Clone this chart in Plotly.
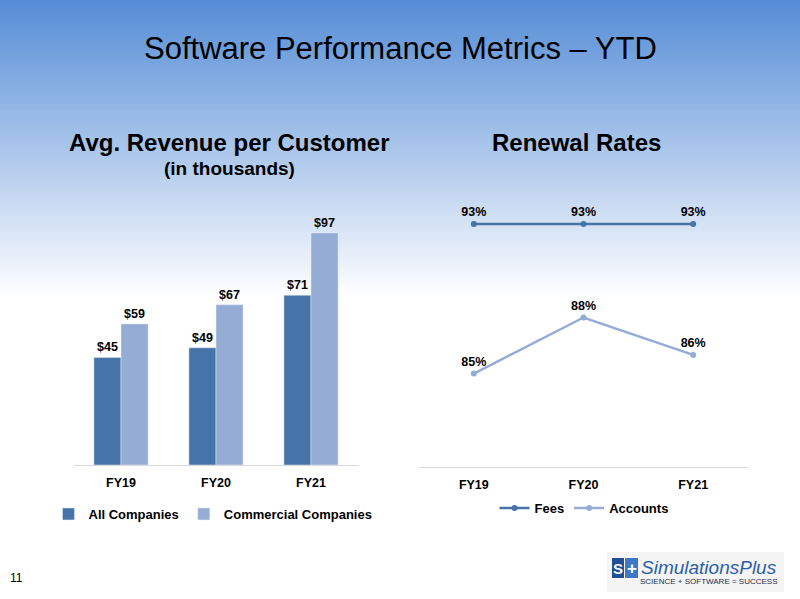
import plotly.graph_objects as go

years = ["FY19", "FY20", "FY21"]
all_companies = [45, 49, 71]
commercial = [59, 67, 97]
fees = [93, 93, 93]
accounts = [85, 88, 86]

FONT = "Arial, Liberation Sans, sans-serif"
DARK = "#4673a8"
LIGHT = "#95acd4"
W, H = 800, 599

fig = go.Figure()

# bars (left chart)
fig.add_trace(go.Bar(
    x=years, y=all_companies, name="All Companies", marker_color=DARK,
    text=["$%d" % v for v in all_companies], textposition="outside",
    textfont=dict(family=FONT, size=12.5, color="black", weight="bold"),
    cliponaxis=False, xaxis="x", yaxis="y", legend="legend",
))
fig.add_trace(go.Bar(
    x=years, y=commercial, name="Commercial Companies", marker_color=LIGHT,
    text=["$%d" % v for v in commercial], textposition="outside",
    textfont=dict(family=FONT, size=12.5, color="black", weight="bold"),
    cliponaxis=False, xaxis="x", yaxis="y", legend="legend",
))

# lines (right chart)
fig.add_trace(go.Scatter(
    x=years, y=fees, name="Fees", mode="lines+markers+text",
    line=dict(color=DARK, width=2.5), marker=dict(size=6, color=DARK),
    text=["%d%%" % v for v in fees], textposition="top center",
    textfont=dict(family=FONT, size=12.5, color="black", weight="bold"),
    cliponaxis=False, xaxis="x2", yaxis="y2", legend="legend2",
))
fig.add_trace(go.Scatter(
    x=years, y=accounts, name="Accounts", mode="lines+markers+text",
    line=dict(color=LIGHT, width=2.5), marker=dict(size=6, color=LIGHT),
    text=["%d%%" % v for v in accounts], textposition="top center",
    textfont=dict(family=FONT, size=12.5, color="black", weight="bold"),
    cliponaxis=False, xaxis="x2", yaxis="y2", legend="legend2",
))

# background gradient: blue at top fading to white
shapes = []
n = 100
fade = 300
top = (86, 141, 214)
for i in range(n):
    t = i / (n - 1)
    c = tuple(int(round(top[k] + (255 - top[k]) * t)) for k in range(3))
    y_top = 1 - (i * fade / n) / H
    y_bot = 1 - ((i + 1) * fade / n) / H
    shapes.append(dict(type="rect", xref="paper", yref="paper", x0=0, x1=1,
                       y0=y_bot, y1=y_top + 0.001, fillcolor="rgb(%d,%d,%d)" % c,
                       line_width=0, layer="below"))

# logo box
shapes.append(dict(type="rect", xref="paper", yref="paper",
                   x0=607 / W, x1=784 / W, y0=1 - 592 / H, y1=1 - 552 / H,
                   fillcolor="#f4f4f4", line_width=0, layer="below"))
shapes.append(dict(type="rect", xref="paper", yref="paper",
                   x0=612 / W, x1=624 / W, y0=1 - 578 / H, y1=1 - 558 / H,
                   fillcolor="#1f4f96", line_width=0))
shapes.append(dict(type="rect", xref="paper", yref="paper",
                   x0=625 / W, x1=638 / W, y0=1 - 578 / H, y1=1 - 558 / H,
                   fillcolor="#3f78c4", line_width=0))

annotations = [
    dict(text="Software Performance Metrics – YTD", x=0.5, y=1 - 48 / H,
         font=dict(family=FONT, size=31, color="black")),
    dict(text="Avg. Revenue per Customer", x=229.5 / W, y=1 - 143 / H,
         font=dict(family=FONT, size=24, color="black", weight="bold")),
    dict(text="(in thousands)", x=229.5 / W, y=1 - 168 / H,
         font=dict(family=FONT, size=19, color="black", weight="bold")),
    dict(text="Renewal Rates", x=576.5 / W, y=1 - 143 / H,
         font=dict(family=FONT, size=24, color="black", weight="bold")),
    dict(text="11", x=16 / W, y=1 - 578 / H,
         font=dict(family=FONT, size=12, color="black")),
    dict(text="S", x=618 / W, y=1 - 568 / H,
         font=dict(family=FONT, size=15, color="white", weight="bold")),
    dict(text="+", x=631.5 / W, y=1 - 568 / H,
         font=dict(family=FONT, size=17, color="white", weight="bold")),
    dict(text="<i>SimulationsPlus</i>", x=709 / W, y=1 - 567 / H,
         font=dict(family=FONT, size=19, color="#2d5fa8")),
    dict(text="SCIENCE + SOFTWARE = SUCCESS", x=709 / W, y=1 - 581 / H,
         font=dict(family=FONT, size=8, color="#1c2a4a")),
]
for a in annotations:
    a.update(xref="paper", yref="paper", showarrow=False,
             xanchor="center", yanchor="middle")

axis_common = dict(showgrid=False, zeroline=False, ticks="", ticklabelstandoff=6,
                   tickfont=dict(family=FONT, size=12.5, color="black", weight="bold"))

fig.update_layout(
    width=W, height=H, margin=dict(l=0, r=0, t=0, b=0),
    paper_bgcolor="white", plot_bgcolor="rgba(0,0,0,0)",
    barmode="group", bargap=0.43, bargroupgap=0,
    shapes=shapes, annotations=annotations,
    xaxis=dict(domain=[73.5 / W, 358.5 / W], anchor="y", showline=True,
               linecolor="#d9d9d9", linewidth=1, **axis_common),
    yaxis=dict(domain=[1 - 465 / H, 1 - 178 / H], anchor="x", range=[0, 120],
               visible=False, showgrid=False, zeroline=False),
    xaxis2=dict(domain=[419 / W, 748 / W], anchor="y2", showline=True,
                linecolor="#d9d9d9", linewidth=1, range=[-0.5, 2.5], **axis_common),
    yaxis2=dict(domain=[1 - 467 / H, 1 - 168 / H], anchor="x2", range=[80, 96],
                visible=False, showgrid=False, zeroline=False),
    legend=dict(orientation="h", x=213 / W, y=1 - 514 / H, xanchor="center",
                yanchor="middle", bgcolor="rgba(0,0,0,0)", itemwidth=30,
                font=dict(family=FONT, size=13, color="black", weight="bold")),
    legend2=dict(orientation="h", x=584 / W, y=1 - 508 / H, xanchor="center",
                 yanchor="middle", bgcolor="rgba(0,0,0,0)", itemwidth=30,
                 font=dict(family=FONT, size=13, color="black", weight="bold")),
    showlegend=True,
)

fig.write_html("out.html", config={"displayModeBar": False},
               post_script="document.body.style.margin='0';")
